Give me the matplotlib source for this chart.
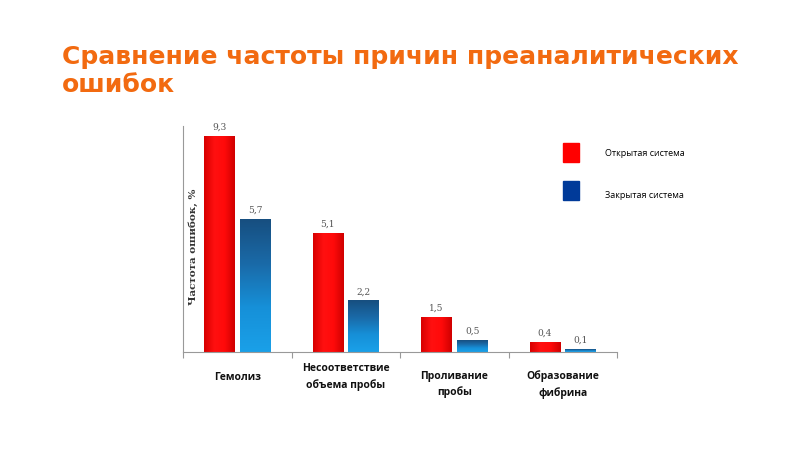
import numpy as np
import matplotlib.pyplot as plt
from matplotlib.colors import LinearSegmentedColormap

# данные
categories = ['Гемолиз', 'Несоответствие\nобъема пробы', 'Проливание\nпробы', 'Образование\nфибрина']
open_sys = [9.3, 5.1, 1.5, 0.4]
closed_sys = [5.7, 2.2, 0.5, 0.1]
open_lbl = ['9,3', '5,1', '1,5', '0,4']
closed_lbl = ['5,7', '2,2', '0,5', '0,1']

fig = plt.figure(figsize=(8, 4.49), dpi=100)
fig.text(62/800, 1-71/449, 'Сравнение частоты причин преаналитических\nошибок',
         color='#F26A10', fontsize=18, fontweight='bold', va='center', ha='left',
         family='DejaVu Sans', linespacing=1.25)

ax = fig.add_axes([183/800, 1-352/449, 434/800, 226/449])

w = 0.28
off = 0.165
red_cm = LinearSegmentedColormap.from_list('r', ['#d80000', '#ff1010', '#ff0a0a', '#d00000'])
blue_cm = LinearSegmentedColormap.from_list('b', ['#1aa0e8', '#1690d8', '#1a6aa8', '#174f80'])

for i in range(4):
    xc = i + 0.5
    # красные
    x0 = xc - off - w/2
    grad = np.linspace(0, 1, 50).reshape(1, -1)
    ax.imshow(grad, extent=(x0, x0+w, 0, open_sys[i]), cmap=red_cm, aspect='auto', zorder=2)
    ax.text(xc - off, open_sys[i] + 0.2, open_lbl[i], ha='center', va='bottom',
            fontsize=6.5, family='DejaVu Serif', color='#555555')
    # синие
    x1 = xc + off - w/2
    vgrad = np.linspace(0, 1, 100).reshape(-1, 1)
    ax.imshow(vgrad, extent=(x1, x1+w, 0, closed_sys[i]), cmap=blue_cm, aspect='auto',
              origin='lower', zorder=2)
    ax.text(xc + off, closed_sys[i] + 0.2, closed_lbl[i], ha='center', va='bottom',
            fontsize=6.5, family='DejaVu Serif', color='#555555')

ax.set_xlim(0, 4)
ax.set_ylim(0, 9.74)
for s in ['top', 'right']:
    ax.spines[s].set_visible(False)
ax.spines['left'].set_color('#999999')
ax.spines['bottom'].set_color('#999999')
ax.set_yticks([])
ax.set_xticks([0, 1, 2, 3, 4])
ax.set_xticklabels([])
ax.tick_params(axis='x', length=4, color='#999999')

# подписи категорий: первые две по центру, остальные от верхней строки
label_y = [377, 377, 384.5, 384.5]
for i, c in enumerate(categories):
    fig.text((183 + (i + 0.5) * 108.5)/800, 1-label_y[i]/449, c, ha='center', va='center',
             fontsize=7.5, fontweight='bold', family='Open Sans', linespacing=1.55,
             color='#111111')

fig.text(193/800, 1-247/449, 'Частота ошибок, %', rotation=90, ha='center', va='center',
         fontsize=7.5, fontweight='bold', family='DejaVu Serif', color='#333333')

# легенда
fig.patches.append(plt.Rectangle((563/800, 1-162/449), 16/800, 19/449, color='#ff0000',
                                 transform=fig.transFigure, figure=fig))
fig.patches.append(plt.Rectangle((563/800, 1-200/449), 16/800, 19/449, color='#003a99',
                                 transform=fig.transFigure, figure=fig))
fig.text(605/800, 1-153/449, 'Открытая система', fontsize=6.5, va='center', family='Open Sans')
fig.text(605/800, 1-196/449, 'Закрытая система', fontsize=6.5, va='center', family='Open Sans')

fig.savefig('out.png', dpi=100)
